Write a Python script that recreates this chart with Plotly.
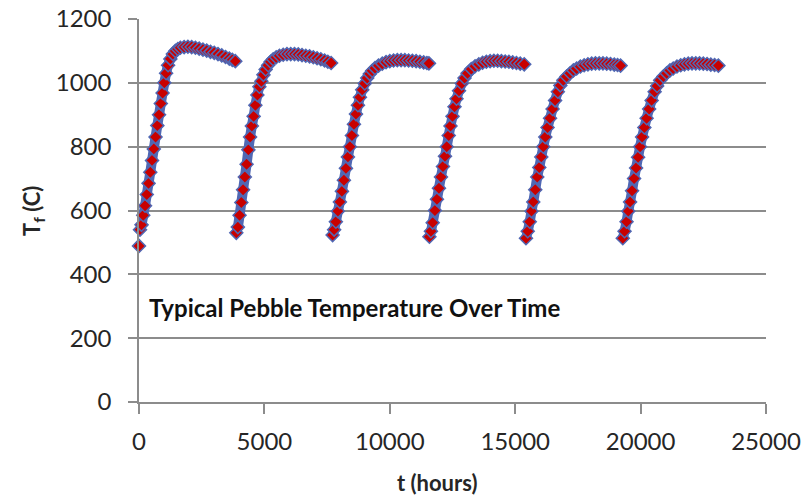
import plotly.graph_objects as go

# ---- data (t in hours, T in deg C), one list pair per cycle ----
c1_t = [0, 40, 100, 170, 240, 310, 380, 450, 520, 590, 660, 730, 800, 870, 940, 1010, 1080, 1160,
        1250, 1350, 1450, 1550, 1650, 1800, 1950, 2100, 2250, 2400, 2550, 2700, 2850, 3000, 3150,
        3300, 3450, 3600, 3720, 3840]
c1_T = [489, 540, 555, 585, 615, 650, 685, 720, 757, 793, 830, 866, 900, 935, 968, 1000, 1030, 1055,
        1075, 1090, 1100, 1106, 1110, 1112, 1113, 1112, 1110, 1107, 1104, 1101, 1097, 1094, 1090,
        1086, 1081, 1076, 1072, 1068]

c2_t = [3880, 3940, 4010, 4080, 4150, 4220, 4290, 4360, 4430, 4500, 4570, 4640, 4720, 4800, 4880,
        4960, 5050, 5150, 5250, 5350, 5470, 5600, 5750, 5900, 6050, 6200, 6350, 6500, 6650, 6800,
        6950, 7100, 7250, 7400, 7530, 7660]
c2_T = [530, 548, 585, 625, 665, 705, 745, 790, 830, 865, 895, 930, 962, 988, 1005,
        1025, 1042, 1055, 1066, 1074, 1080, 1085, 1088, 1090, 1090, 1090, 1089, 1087, 1085, 1083,
        1080, 1077, 1074, 1070, 1066, 1062]

c3_t = [7720, 7780, 7850, 7930, 8010, 8090, 8170, 8250, 8330, 8410, 8490, 8570, 8650, 8730, 8810,
        8900, 9000, 9100, 9200, 9300, 9410, 9550, 9700, 9850, 10000, 10150, 10300, 10450, 10600,
        10750, 10900, 11050, 11200, 11350, 11480, 11560]
c3_T = [523, 540, 565, 598, 627, 660, 695, 732, 768, 800, 835, 870, 902, 930, 955,
        978, 998, 1015, 1028, 1038, 1046, 1054, 1060, 1065, 1068, 1070, 1071, 1071, 1071,
        1070, 1069, 1068, 1066, 1064, 1062, 1061]

c4_t = [11580, 11640, 11710, 11800, 11880, 11960, 12040, 12120, 12200, 12270, 12350, 12420, 12500,
        12580, 12660, 12760, 12870, 12980, 13100, 13250, 13400, 13550, 13700, 13850, 14000, 14150,
        14300, 14450, 14600, 14750, 14900, 15050, 15200, 15360]
c4_T = [518, 535, 562, 600, 635, 670, 705, 738, 770, 800, 835, 865, 895,
        925, 950, 975, 998, 1015, 1030, 1043, 1052, 1058, 1063, 1066, 1068, 1069,
        1069, 1068, 1067, 1066, 1064, 1062, 1060, 1058]

c5_t = [15430, 15500, 15580, 15650, 15720, 15800, 15880, 15960, 16040, 16120, 16200, 16290, 16390,
        16490, 16590, 16700, 16800, 16920, 17050, 17190, 17320, 17450, 17600, 17750, 17900, 18050,
        18200, 18350, 18500, 18650, 18800, 18950, 19080, 19200]
c5_T = [513, 535, 565, 598, 627, 665, 705, 735, 768, 800, 830, 860, 889,
        918, 945, 972, 992, 1008, 1020, 1030, 1039, 1045, 1051, 1055, 1058, 1060,
        1061, 1061, 1061, 1060, 1059, 1057, 1056, 1054]

c6_t = [19290, 19360, 19440, 19510, 19580, 19660, 19740, 19820, 19900, 19980, 20060, 20150, 20240,
        20340, 20440, 20560, 20660, 20780, 20910, 21040, 21170, 21300, 21450, 21600, 21750, 21900,
        22050, 22200, 22350, 22500, 22650, 22800, 22950, 23100]
c6_T = [513, 535, 565, 598, 627, 662, 700, 733, 767, 800, 830, 860, 889,
        918, 945, 972, 990, 1008, 1020, 1030, 1039, 1045, 1051, 1055, 1058, 1060,
        1061, 1061, 1061, 1060, 1059, 1057, 1056, 1054]

cycles = [(c1_t, c1_T), (c2_t, c2_T), (c3_t, c3_T), (c4_t, c4_T), (c5_t, c5_T), (c6_t, c6_T)]

x_ticks = [0, 5000, 10000, 15000, 20000, 25000]
y_ticks = [0, 200, 400, 600, 800, 1000, 1200]

BLUE = "#5068B4"
RED = "#C80000"
GRID = "#8C8C8C"
FONT = "Lato"

fig = go.Figure()
for i, (t, T) in enumerate(cycles):
    # blue band along the dense points (first isolated point excluded for cycle 1)
    bt, bT = (t[1:], T[1:]) if i == 0 else (t, T)
    fig.add_trace(go.Scatter(x=bt, y=bT, mode="lines",
                             line=dict(color=BLUE, width=10, shape="spline"),
                             hoverinfo="skip", showlegend=False, cliponaxis=False))
    fig.add_trace(go.Scatter(x=t, y=T, mode="markers",
                             marker=dict(symbol="diamond", size=10, color=RED,
                                         line=dict(color=BLUE, width=1.5)),
                             showlegend=False, cliponaxis=False))

fig.update_layout(
    width=811, height=496,
    margin=dict(l=139, r=45, t=19, b=94, autoexpand=False),
    plot_bgcolor="white", paper_bgcolor="white",
    font=dict(family=FONT, size=24, color="#262626"),
    xaxis=dict(range=[0, 25000], tickvals=x_ticks, ticktext=[str(v) for v in x_ticks],
               showgrid=False, zeroline=False, showline=True, linecolor=GRID, linewidth=1.5,
               ticks="outside", ticklen=10, tickwidth=1.5, tickcolor=GRID, automargin=False,
               tickfont=dict(family=FONT, size=24, color="#262626"), ticklabelstandoff=7),
    yaxis=dict(range=[0, 1200], tickvals=y_ticks, ticktext=[str(v) for v in y_ticks],
               showgrid=True, gridcolor=GRID, gridwidth=1.5, zeroline=False,
               showline=True, linecolor=GRID, linewidth=1.5, automargin=False,
               ticks="outside", ticklen=9, tickwidth=1.5, tickcolor=GRID,
               tickfont=dict(family=FONT, size=24, color="#262626"), ticklabelstandoff=12),
    annotations=[
        dict(text="<b>Typical Pebble Temperature Over Time</b>", xref="paper", yref="paper",
             x=0.343, y=0.248, showarrow=False, xanchor="center", yanchor="middle",
             font=dict(family=FONT, size=24, color="#111111")),
        dict(text="<b>t (hours)</b>", xref="paper", yref="paper",
             x=0.475, y=-0.211, showarrow=False, xanchor="center", yanchor="middle",
             font=dict(family=FONT, size=22, color="#262626")),
        dict(text="<b>T<sub>f</sub> (C)</b>", xref="paper", yref="paper",
             x=-0.17, y=0.50, showarrow=False, xanchor="center", yanchor="middle",
             textangle=-90, font=dict(family=FONT, size=22, color="#262626")),
    ],
)

fig.write_html("out.html")
